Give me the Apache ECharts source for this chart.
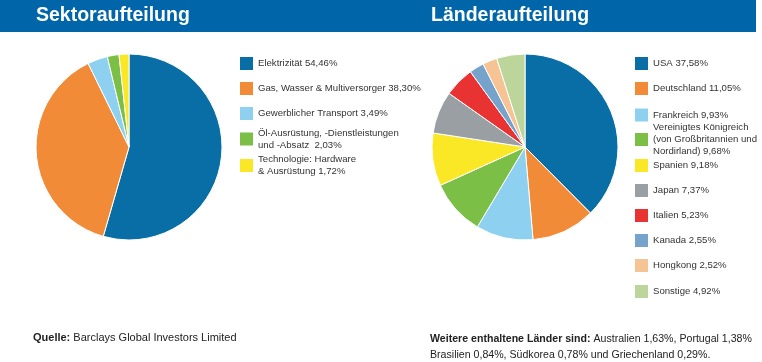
<!DOCTYPE html>
<html><head><meta charset="utf-8">
<script src="https://cdn.jsdelivr.net/npm/echarts@6/dist/echarts.min.js"></script>
<style>html,body{margin:0;padding:0;background:#fff}#c{width:762px;height:362px}</style>
</head><body><div id="c"></div>
<script>
// ---- data ----
const sectorNames = ["Elektrizität", "Gas, Wasser & Multiversorger", "Gewerblicher Transport", "Öl-Ausrüstung, -Dienstleistungen und -Absatz", "Technologie: Hardware & Ausrüstung"];
const sectorLabels = ["Elektrizität 54,46%", "Gas, Wasser & Multiversorger 38,30%", "Gewerblicher Transport 3,49%", "Öl-Ausrüstung, -Dienstleistungen\nund -Absatz  2,03%", "Technologie: Hardware\n& Ausrüstung 1,72%"];
const sectorValues = [54.46, 38.30, 3.49, 2.03, 1.72];

const countryNames = ["USA", "Deutschland", "Frankreich", "Vereinigtes Königreich", "Spanien", "Japan", "Italien", "Kanada", "Hongkong", "Sonstige"];
const countryLabels = ["USA 37,58%", "Deutschland 11,05%", "Frankreich 9,93%", "Vereinigtes Königreich\n(von Großbritannien und\nNordirland) 9,68%", "Spanien 9,18%", "Japan 7,37%", "Italien 5,23%", "Kanada 2,55%", "Hongkong 2,52%", "Sonstige 4,92%"];
const countryValues = [37.58, 11.05, 9.93, 9.68, 9.18, 7.37, 5.23, 2.55, 2.52, 4.92];

const sectorColors = ["#0a6ea6", "#f28b37", "#8dd0ef", "#7cbf47", "#fae827"];
const countryColors = ["#0a6ea6", "#f28b37", "#8dd0ef", "#7cbf47", "#fae827", "#9a9fa4", "#e93232", "#76a3cb", "#f6c395", "#bcd59a"];

// ---- layout (styles) ----
const FONT = "'Liberation Sans', Arial, sans-serif";
const sectorLegendCenters = [62.5, 87.5, 112.5, 139, 165.5];
const countryLegendCenters = [62.5, 87.5, 114, 139.5, 164.5, 189.5, 214.5, 239.5, 264.5, 290.5];
const LH = 12;

function legendsFor(names, labels, centers, left) {
  return names.map((n, i) => {
    const lines = labels[i].split("\n").length;
    const h = Math.max(15, lines * LH);
    return {
      orient: "vertical", left: left, top: centers[i] - h / 2,
      itemWidth: 15, itemHeight: 15, icon: "rect", itemGap: 0, padding: 0,
      selectedMode: false,
      data: [n],
      formatter: () => labels[i],
      textStyle: { fontFamily: FONT, fontSize: 9.6, color: "#333", lineHeight: LH, padding: [0, 0, 0, -1] }
    };
  });
}

const chart = echarts.init(document.getElementById("c"), null, { renderer: "canvas" });
chart.setOption({
  animation: false,
  graphic: [{ type: "rect", shape: { x: 0, y: 0, width: 756, height: 32 }, style: { fill: "#0066a9" }, z: -1 }],
  title: [
    { text: "Sektoraufteilung", left: 36, top: 6, padding: 0, textStyle: { color: "#fff", fontSize: 19.5, fontWeight: "bold", fontFamily: FONT } },
    { text: "Länderaufteilung", left: 431, top: 6, padding: 0, textStyle: { color: "#fff", fontSize: 19.5, fontWeight: "bold", fontFamily: FONT } },
    { text: "{b|Quelle:} Barclays Global Investors Limited", left: 33, top: 332, padding: 0,
      textStyle: { rich: { b: { fontWeight: "bold", fontFamily: FONT, fontSize: 11, color: "#222" } }, fontFamily: FONT, fontSize: 11, color: "#222", fontWeight: "normal" } },
    { text: "{b|Weitere enthaltene Länder sind:} Australien 1,63%, Portugal 1,38%\nBrasilien 0,84%, Südkorea 0,78% und Griechenland 0,29%.", left: 430, top: 331, padding: 0,
      textStyle: { rich: { b: { fontWeight: "bold", fontFamily: FONT, fontSize: 10.6, color: "#222", lineHeight: 16 } }, fontFamily: FONT, fontSize: 10.6, color: "#222", fontWeight: "normal", lineHeight: 16 } }
  ],
  legend: legendsFor(sectorNames, sectorLabels, sectorLegendCenters, 238).concat(legendsFor(countryNames, countryLabels, countryLegendCenters, 633)),
  series: [
    { type: "pie", center: [129, 147], radius: [0, 93], startAngle: 90, clockwise: true,
      label: { show: false }, labelLine: { show: false }, silent: true,
      itemStyle: { borderColor: "#fff", borderWidth: 1 },
      data: sectorNames.map((n, i) => ({ name: n, value: sectorValues[i], itemStyle: { color: sectorColors[i] } })) },
    { type: "pie", center: [525, 147], radius: [0, 93], startAngle: 90, clockwise: true,
      label: { show: false }, labelLine: { show: false }, silent: true,
      itemStyle: { borderColor: "#fff", borderWidth: 1 },
      data: countryNames.map((n, i) => ({ name: n, value: countryValues[i], itemStyle: { color: countryColors[i] } })) }
  ]
});
</script></body></html>
